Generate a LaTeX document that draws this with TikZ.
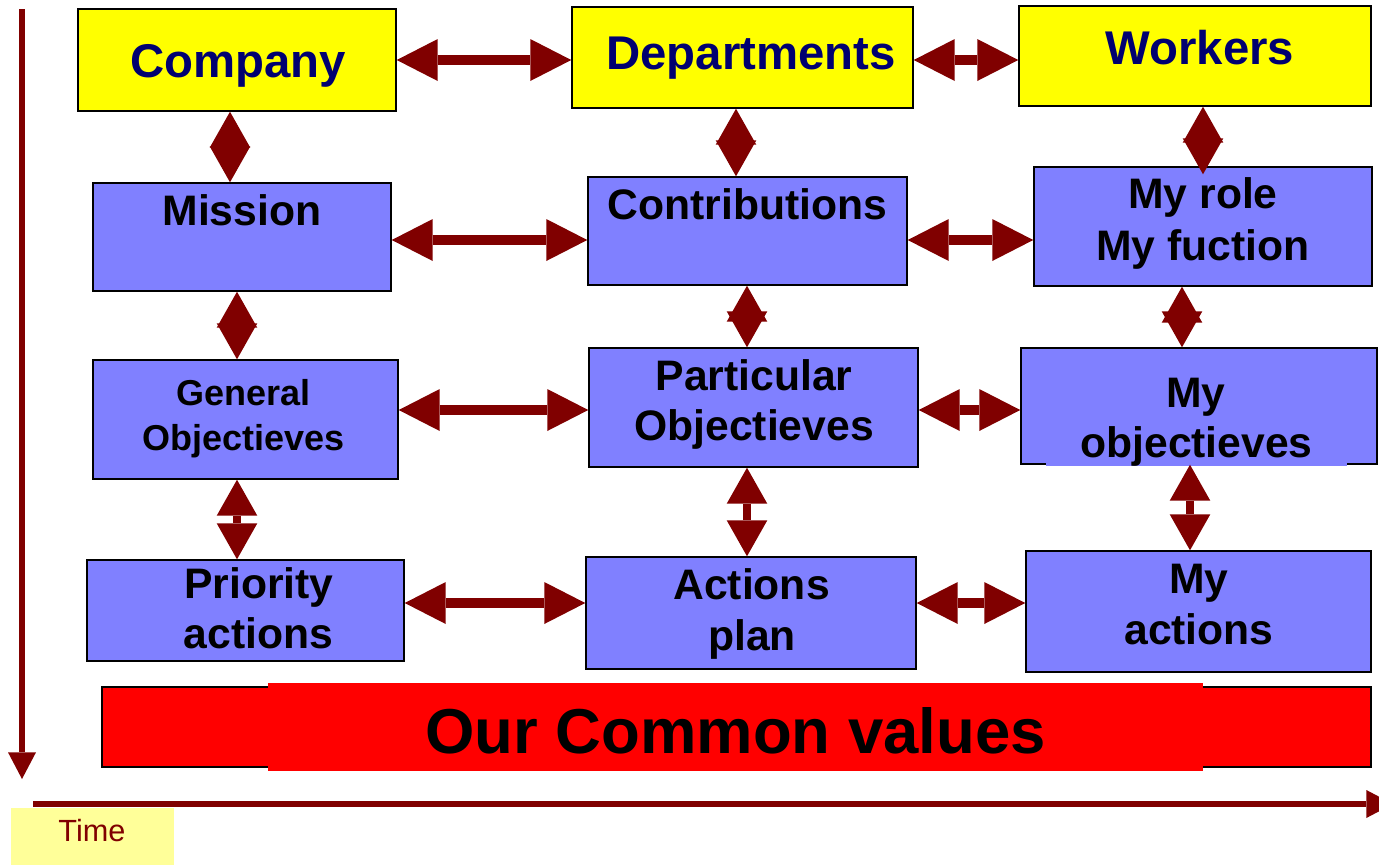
\documentclass[tikz,border=0pt]{standalone}
\usepackage{fontspec}
\setmainfont{Liberation Sans}
\usetikzlibrary{arrows.meta,calc,fit}

\definecolor{darkred}{RGB}{128,0,0}
\definecolor{navytext}{RGB}{0,0,112}
\definecolor{boxyellow}{RGB}{255,255,0}
\definecolor{boxblue}{RGB}{128,128,255}
\definecolor{paleyellow}{RGB}{255,255,153}
\definecolor{valuesred}{RGB}{255,0,0}

\tikzset{
  box/.style={draw=black, line width=1.1pt, inner sep=0pt},
  yellowbox/.style={box, fill=boxyellow},
  bluebox/.style={box, fill=boxblue},
  lbl/.style={inner sep=0pt, anchor=base},
  headtxt/.style={lbl, font=\fontsize{35.5}{40}\selectfont\bfseries, text=navytext},
  bodytxt/.style={lbl, font=\fontsize{32}{38}\selectfont\bfseries},
  smalltxt/.style={lbl, font=\fontsize{27}{32}\selectfont\bfseries},
  hlink/.style={draw=darkred, line width=7.5pt,
    arrows={Triangle[length=30.75pt,width=31.5pt,line width=0pt]-Triangle[length=30.75pt,width=31.5pt,line width=0pt]}},
  vlink/.style={draw=darkred, line width=6pt,
    arrows={Triangle[length=27pt,width=30.5pt,line width=0pt]-Triangle[length=27pt,width=30.5pt,line width=0pt]}},
  axis/.style={draw=darkred, line width=4.2pt,
    arrows={-Triangle[length=20pt,width=21pt,line width=0pt]}},
}

\begin{document}
\begin{tikzpicture}[x=0.75pt, y=-0.75pt]
\useasboundingbox (0,0) rectangle (1379,865);

% --- top row: levels of the organisation
\node[yellowbox, fit={(78,9) (396,111)}] (company) {};
\node[yellowbox, fit={(572,7) (913,108)}] (departments) {};
\node[yellowbox, fit={(1019,6) (1371,106)}] (workers) {};
\node[headtxt] (tcompany) at (238,77) {Company};
\node[headtxt] (tdepartments) at (751,69) {Departments};
\node[headtxt] (tworkers) at (1200,64) {Workers};

% --- second row
\node[bluebox, fit={(93,183) (391,291)}] (mission) {};
\node[bluebox, fit={(588,177) (907,285)}] (contrib) {};
\node[bluebox, fit={(1034,167) (1372,286)}] (role) {};
\node[bodytxt] (tmission) at (242,225) {Mission};
\node[bodytxt] (tcontrib) at (747.5,219) {Contributions};
\node[bodytxt] (trole1) at (1203,208) {My role};
\node[bodytxt] (trole2) at (1203,260) {My fuction};

% --- third row
\node[bluebox, fit={(93,360) (398,479)}] (general) {};
\node[bluebox, fit={(589,348) (918,467)}] (particular) {};
\node[bluebox, fit={(1021,348) (1377,464)}] (myobj) {};
\fill[boxblue] (1046,459) rectangle (1347,466);
\node[smalltxt] (tgeneral1) at (243.5,405) {General};
\node[smalltxt] (tgeneral2) at (243.5,450) {Objectieves};
\node[bodytxt] (tpart1) at (754,390) {Particular};
\node[bodytxt] (tpart2) at (754,440) {Objectieves};
\node[bodytxt] (tmyobj1) at (1196,407) {My};
\node[bodytxt] (tmyobj2) at (1196.5,457) {objectieves};

% --- fourth row
\node[bluebox, fit={(87,560) (404,661)}] (priority) {};
\node[bluebox, fit={(586,557) (916,669)}] (actplan) {};
\node[bluebox, fit={(1026,551) (1371,672)}] (myact) {};
\node[bodytxt] (tprio1) at (259,598) {Priority};
\node[bodytxt] (tprio2) at (258.5,648) {actions};
\node[bodytxt] (tplan1) at (751.5,599) {Actions};
\node[bodytxt] (tplan2) at (752,650) {plan};
\node[bodytxt] (tmyact1) at (1199,593) {My};
\node[bodytxt] (tmyact2) at (1199,644) {actions};

% --- shared values band
\node[box, fill=valuesred, fit={(102,687) (1371,767)}] (values) {};
\node[fill=valuesred, inner sep=0pt, fit={(268,683) (1203,771)}] (valuescore) {};
\node[lbl, font=\fontsize{47.6}{52}\selectfont\bfseries] (tvalues) at (735.5,753) {Our Common values};

% --- horizontal links
\draw[hlink] (company.east) -- ($(departments.west)+(0,2.5)$);
\draw[hlink] ($(departments.east)+(0,2.5)$) -- ($(workers.west)+(0,4)$);
\draw[hlink] ($(mission.east)+(0,3)$) -- ($(contrib.west)+(0,9)$);
\draw[hlink] ($(contrib.east)+(0,9)$) -- ($(role.west)+(0,13.5)$);
\draw[hlink] ($(general.east)+(0,-9.5)$) -- ($(particular.west)+(0,2.5)$);
\draw[hlink] ($(particular.east)+(0,2.5)$) -- ($(myobj.west)+(0,4)$);
\draw[hlink] ($(priority.east)+(0,-7.5)$) -- ($(actplan.west)+(0,-10)$);
\draw[hlink] ($(actplan.east)+(0,-10)$) -- ($(myact.west)+(0,-8.5)$);

% --- vertical links
\draw[vlink] ($(company.south)+(-7,0)$) -- ($(mission.north)+(-12,0)$);
\draw[vlink] ($(departments.south)+(-6.5,0)$) -- ($(contrib.north)+(-11.5,0)$);
\draw[vlink] ($(workers.south)+(8,0)$) -- ($(role.north)+(0,8)$);
\draw[vlink] ($(mission.south)+(-5,0)$) -- ($(general.north)+(-8.5,0)$);
\draw[vlink] ($(contrib.south)+(-0.5,0)$) -- ($(particular.north)+(-6.5,0)$);
\draw[vlink] ($(role.south)+(-21,0)$) -- ($(myobj.north)+(-17,0)$);
\draw[vlink] ($(general.south)+(-8.5,0)$) -- ($(priority.north)+(-8.5,0)$);
\draw[vlink] ($(particular.south)+(-6.5,0)$) -- ($(actplan.north)+(-4,0)$);
\draw[vlink] ($(myobj.south)+(-9,0)$) -- ($(myact.north)+(-8.5,0)$);

% --- time axes
\coordinate (vtop) at (22,9);
\coordinate (vend) at (22,779);
\coordinate (hstart) at (33,804);
\coordinate (hend) at (1393,804);
\draw[axis] (vtop) -- (vend);
\draw[axis] (hstart) -- (hend);

\node[fill=paleyellow, inner sep=0pt, fit={(11,808) (174,865)}] (timebox) {};
\node[lbl, font=\fontsize{23}{27}\selectfont, text=darkred] (ttime) at (92,841) {Time};
\end{tikzpicture}
\end{document}
